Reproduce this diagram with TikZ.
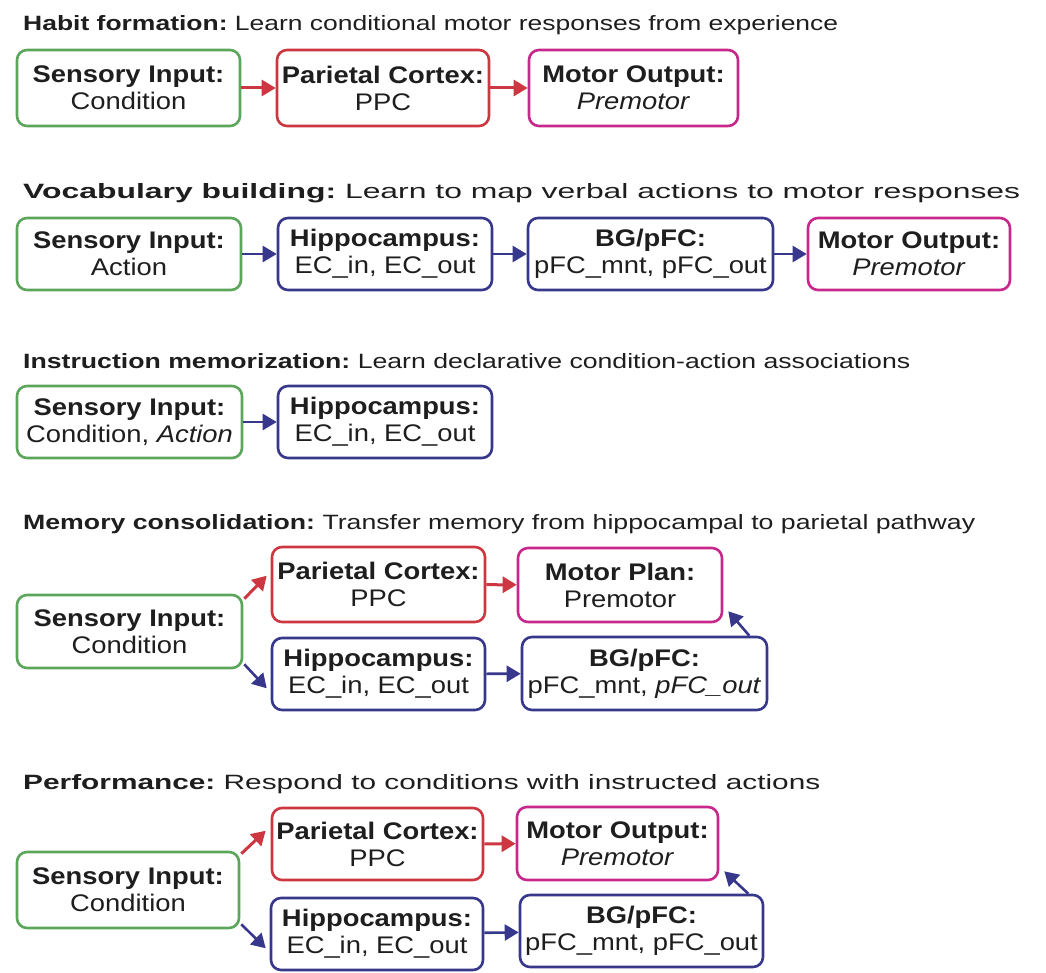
\documentclass[tikz,border=0pt]{standalone}
\usepackage{fontspec}
\usepackage{graphicx}
\usetikzlibrary{arrows.meta}
\newfontfamily\boxfont[FakeStretch=1.14]{Liberation Sans}
\newfontfamily\titlefont{Liberation Sans}
\definecolor{sensgreen}{RGB}{92,166,92}
\definecolor{parred}{RGB}{205,55,65}
\definecolor{motmag}{RGB}{200,40,140}
\definecolor{hipblue}{RGB}{55,55,140}
\definecolor{ink}{RGB}{30,30,30}
% title line: bold head, regular description, fitted to a given width
\newcommand{\rowtitle}[3]{\resizebox{#1pt}{15pt}{\titlefont\textbf{#2}\ #3}}
\begin{document}
\begin{tikzpicture}[x=1pt,y=-1pt,
  area/.style={draw, line width=2.6pt, rounded corners=10pt, fill=white,
    inner sep=0pt, align=center, text=ink,
    font=\boxfont\fontsize{24}{27}\selectfont},
  sens/.style={area, draw=sensgreen},
  par/.style={area, draw=parred},
  mot/.style={area, draw=motmag},
  hip/.style={area, draw=hipblue},
  redlink/.style={draw=parred, line width=3pt, -{Triangle[length=14pt,width=16pt]}},
  bluelink/.style={draw=hipblue, line width=2.6pt, -{Triangle[length=14pt,width=16pt]}},
  headline/.style={anchor=base west, inner sep=0pt, text=ink}]
\useasboundingbox (0,0) rectangle (1046,973);

% ---- Habit formation
\node[headline] (t1) at (23,31) {\rowtitle{815}{Habit formation:}{Learn conditional motor responses from experience}};
\node[sens, minimum width=223, minimum height=76] (S1) at (128.5,88) {\textbf{Sensory Input:}\\Condition};
\node[par, minimum width=212, minimum height=76] (P1) at (383,88) {\textbf{Parietal Cortex:}\\PPC};
\node[mot, minimum width=209, minimum height=76] (M1) at (633.5,88) {\textbf{Motor Output:}\\\textit{Premotor}};
\draw[redlink] (S1) -- (P1);
\draw[redlink] (P1) -- (M1);

% ---- Vocabulary building
\node[headline] (t2) at (23,199) {\rowtitle{997}{Vocabulary building:}{Learn to map verbal actions to motor responses}};
\node[sens, minimum width=224, minimum height=72] (S2) at (129,254) {\textbf{Sensory Input:}\\Action};
\node[hip, minimum width=214, minimum height=72] (H2) at (385,254) {\textbf{Hippocampus:}\\EC\_in, EC\_out};
\node[hip, minimum width=245, minimum height=72] (B2) at (650.5,254) {\textbf{BG/pFC:}\\pFC\_mnt, pFC\_out};
\node[mot, minimum width=202, minimum height=72] (M2) at (909,254) {\textbf{Motor Output:}\\\textit{Premotor}};
\draw[bluelink] (S2) -- (H2);
\draw[bluelink] (H2) -- (B2);
\draw[bluelink] (B2) -- (M2);

% ---- Instruction memorization
\node[headline] (t3) at (23,368) {\rowtitle{887}{Instruction memorization:}{Learn declarative condition-action associations}};
\node[sens, minimum width=225, minimum height=72] (S3) at (129.5,422) {\textbf{Sensory Input:}\\Condition, \textit{Action}};
\node[hip, minimum width=214, minimum height=72] (H3) at (385,422) {\textbf{Hippocampus:}\\EC\_in, EC\_out};
\draw[bluelink] (S3) -- (H3);

% ---- Memory consolidation
\node[headline] (t4) at (23,529) {\rowtitle{952}{Memory consolidation:}{Transfer memory from hippocampal to parietal pathway}};
\node[par, minimum width=213, minimum height=75] (P4) at (378.5,584.5) {\textbf{Parietal Cortex:}\\PPC};
\node[mot, minimum width=204, minimum height=74] (M4) at (620,585) {\textbf{Motor Plan:}\\Premotor};
\node[sens, minimum width=225, minimum height=73] (S4) at (129.5,631.5) {\textbf{Sensory Input:}\\Condition};
\node[hip, minimum width=213, minimum height=72] (H4) at (378.5,674) {\textbf{Hippocampus:}\\EC\_in, EC\_out};
\node[hip, minimum width=245, minimum height=73] (B4) at (644.5,673.5) {\textbf{BG/pFC:}\\pFC\_mnt, \textit{pFC\_out}};
\draw[redlink] ([shift={(1,5)}]S4.north east) -- ([shift={(-4,30)}]P4.north west);
\draw[bluelink] ([shift={(1,-5)}]S4.south east) -- ([shift={(-4,-23)}]H4.south west);
\draw[redlink] (P4) -- (M4);
\draw[bluelink] (H4) -- (B4);
\draw[bluelink] ([shift={(-19,0)}]B4.north east) -- ([shift={(5,-12)}]M4.south east);

% ---- Performance
\node[headline] (t5) at (23,789) {\rowtitle{797}{Performance:}{Respond to conditions with instructed actions}};
\node[par, minimum width=211, minimum height=72] (P5) at (377.5,844) {\textbf{Parietal Cortex:}\\PPC};
\node[mot, minimum width=201, minimum height=73] (M5) at (617.5,843.5) {\textbf{Motor Output:}\\\textit{Premotor}};
\node[sens, minimum width=222, minimum height=76] (S5) at (128,890) {\textbf{Sensory Input:}\\Condition};
\node[hip, minimum width=212, minimum height=72] (H5) at (377,934) {\textbf{Hippocampus:}\\EC\_in, EC\_out};
\node[hip, minimum width=243, minimum height=72] (B5) at (641.5,931) {\textbf{BG/pFC:}\\pFC\_mnt, pFC\_out};
\draw[redlink] ([shift={(1,3)}]S5.north east) -- ([shift={(-5,24)}]P5.north west);
\draw[bluelink] ([shift={(1,-5)}]S5.south east) -- ([shift={(-4,-23)}]H5.south west);
\draw[redlink] (P5) -- (M5);
\draw[bluelink] (H5) -- (B5);
\draw[bluelink] ([shift={(-16,0)}]B5.north east) -- ([shift={(5,-10)}]M5.south east);
\end{tikzpicture}
\end{document}
